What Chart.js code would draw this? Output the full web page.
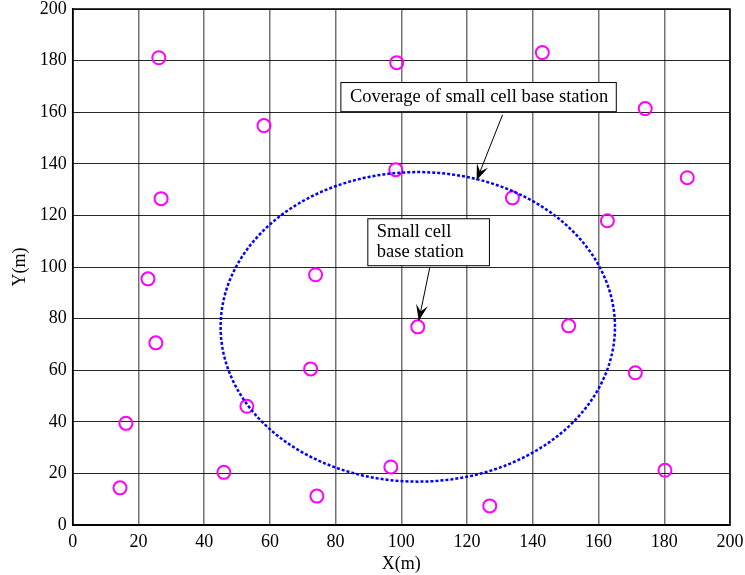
<!DOCTYPE html>
<html>
<head>
<meta charset="utf-8">
<script src="https://cdn.jsdelivr.net/npm/chart.js@4.4.1/dist/chart.umd.min.js"></script>
<style>
  html, body { margin: 0; padding: 0; background: #fff; }
  #wrap { width: 745px; height: 575px; }
</style>
</head>
<body>
<div id="wrap"><canvas id="chart" width="745" height="575"></canvas></div>
<script>
// user positions (m)
const userX = [26.2, 98.6, 142.9, 174.2, 187.0, 58.2, 98.3, 133.8, 162.7, 26.9, 22.9, 73.9, 150.9, 25.3, 72.4, 171.2, 53.0, 16.2, 46.0, 14.4, 96.8, 74.3, 126.9, 180.2];
const userY = [181.1, 179.2, 183.1, 161.4, 134.6, 154.8, 137.7, 126.8, 117.9, 126.5, 95.4, 97.0, 77.2, 70.6, 60.5, 59.0, 46.0, 39.4, 20.4, 14.4, 22.5, 11.2, 7.4, 21.2];

// small cell base station
const stationX = [105.0];
const stationY = [76.8];
const coverageRadius = 60;

const xTicks = [0, 20, 40, 60, 80, 100, 120, 140, 160, 180, 200];
const yTicks = [0, 20, 40, 60, 80, 100, 120, 140, 160, 180, 200];

// text boxes: [left, top, right, bottom] in data units, arrows [x0, y0, x1, y1]
const labelCoverage = ['Coverage of small cell base station'];
const labelStation = ['Small cell', 'base station'];
const boxCoverage = [81.6, 171.5, 165.4, 160.2];
const boxStation = [89.8, 118.7, 126.8, 100.5];
const arrowCoverage = [130.8, 159.0, 122.9, 133.6];
const arrowStation = [108.7, 100.1, 105.3, 79.2];

const serif = "'Liberation Serif', 'Times New Roman', serif";

const users = userX.map((x, i) => ({ x: x, y: userY[i] }));
const station = stationX.map((x, i) => ({ x: x, y: stationY[i] }));

// circle outline from centre and radius
const circle = [];
for (let a = 0; a <= 360; a += 2) {
    const r = a * Math.PI / 180;
    circle.push({ x: stationX[0] + coverageRadius * Math.cos(r), y: stationY[0] + coverageRadius * Math.sin(r) });
}

function arrow(ctx, x0, y0, x1, y1) {
    ctx.beginPath();
    ctx.moveTo(x0, y0);
    ctx.lineTo(x1, y1);
    ctx.stroke();
    const ang = Math.atan2(y1 - y0, x1 - x0);
    const len = 17, w = 0.36;
    ctx.beginPath();
    ctx.moveTo(x1, y1);
    ctx.lineTo(x1 - len * Math.cos(ang - w), y1 - len * Math.sin(ang - w));
    ctx.lineTo(x1 - len * 0.55 * Math.cos(ang), y1 - len * 0.55 * Math.sin(ang));
    ctx.lineTo(x1 - len * Math.cos(ang + w), y1 - len * Math.sin(ang + w));
    ctx.closePath();
    ctx.fill();
}

const annotations = {
    id: 'annotations',
    afterDatasetsDraw(chart) {
        const { ctx, chartArea, scales: { x, y } } = chart;
        ctx.save();
        // frame
        ctx.strokeStyle = '#000';
        ctx.lineWidth = 1.5;
        ctx.strokeRect(chartArea.left, chartArea.top, chartArea.right - chartArea.left, chartArea.bottom - chartArea.top);

        ctx.lineWidth = 1;
        ctx.fillStyle = '#000';
        ctx.font = '18.5px ' + serif;
        ctx.textBaseline = 'middle';

        const drawBox = (box, lines) => {
            const l = x.getPixelForValue(box[0]), t = y.getPixelForValue(box[1]);
            const r = x.getPixelForValue(box[2]), b = y.getPixelForValue(box[3]);
            ctx.fillStyle = '#fff';
            ctx.fillRect(l, t, r - l, b - t);
            ctx.strokeRect(l, t, r - l, b - t);
            ctx.fillStyle = '#000';
            const lh = 20;
            const start = (t + b) / 2 - (lines.length - 1) * lh / 2;
            lines.forEach((s, i) => ctx.fillText(s, l + 9, start + i * lh));
        };
        drawBox(boxCoverage, labelCoverage);
        drawBox(boxStation, labelStation);

        [arrowCoverage, arrowStation].forEach(a => {
            arrow(ctx, x.getPixelForValue(a[0]), y.getPixelForValue(a[1]), x.getPixelForValue(a[2]), y.getPixelForValue(a[3]));
        });
        ctx.restore();
    }
};

new Chart(document.getElementById('chart'), {
    type: 'scatter',
    data: {
        datasets: [
            {
                label: 'coverage',
                data: circle,
                showLine: true,
                borderColor: '#0000ff',
                borderWidth: 2.5,
                borderDash: [3, 2],
                pointRadius: 0
            },
            {
                label: 'users',
                data: users.concat(station),
                borderColor: '#ff00ff',
                backgroundColor: 'rgba(0,0,0,0)',
                borderWidth: 2,
                pointRadius: 6.5,
                pointHoverRadius: 6.5
            }
        ]
    },
    options: {
        responsive: false,
        animation: false,
        layout: { padding: 0 },
        plugins: {
            legend: { display: false },
            tooltip: { enabled: false }
        },
        scales: {
            x: {
                type: 'linear',
                min: 0, max: 200,
                afterBuildTicks: s => { s.ticks = xTicks.map(v => ({ value: v })); },
                afterFit: s => { s.height = 50; s.paddingLeft = 0; s.paddingRight = 15; },
                grid: { color: 'rgba(0,0,0,0.55)', lineWidth: 1.5, drawTicks: false },
                border: { color: '#000', width: 1.5 },
                ticks: { color: '#000', padding: 6, font: { family: serif, size: 18 } },
                title: { display: true, text: 'X(m)', color: '#000', padding: { top: 0, bottom: 0 }, font: { family: serif, size: 18 } }
            },
            y: {
                type: 'linear',
                min: 0, max: 200,
                afterBuildTicks: s => { s.ticks = yTicks.map(v => ({ value: v })); },
                afterFit: s => { s.width = 72.7; s.paddingTop = 9; s.paddingBottom = 0; },
                grid: { color: 'rgba(0,0,0,0.85)', lineWidth: 1, drawTicks: false },
                border: { color: '#000', width: 1.5 },
                ticks: { color: '#000', padding: 6, font: { family: serif, size: 18 } },
                title: { display: true, text: 'Y(m)', color: '#000', padding: { top: 9, bottom: 0 }, font: { family: serif, size: 18 } }
            }
        }
    },
    plugins: [annotations]
});
</script>
</body>
</html>
